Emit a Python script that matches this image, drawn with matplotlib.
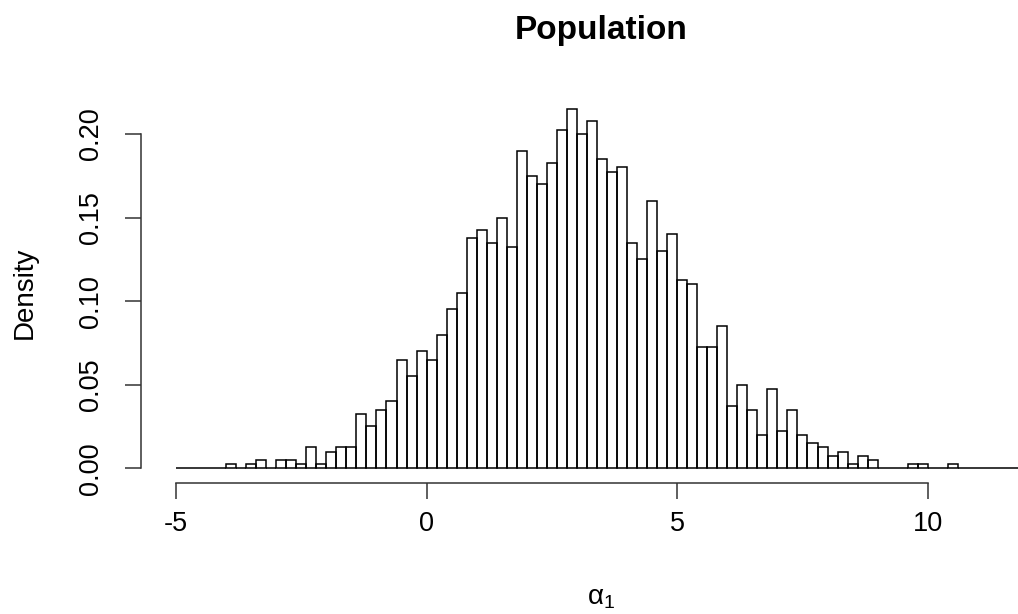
import matplotlib
matplotlib.use("Agg")
import matplotlib.pyplot as plt
import numpy as np

plt.rcParams['font.family'] = ['Liberation Sans', 'DejaVu Sans']
plt.rcParams['mathtext.fontset'] = 'custom'
plt.rcParams['mathtext.rm'] = 'Liberation Sans'

# histogram of alpha_1, bins of width 0.2 starting at -5
bin_start = -5.0
bin_width = 0.2
density = [
    0, 0, 0, 0, 0,                                  # -5.0 .. -4.2
    0.0025, 0, 0.0025, 0.005, 0,                    # -4.0 .. -3.2
    0.005, 0.005, 0.0025, 0.0125, 0.0025,           # -3.0 .. -2.2
    0.01, 0.0125, 0.0125, 0.0325, 0.025,            # -2.0 .. -1.2
    0.035, 0.04, 0.065, 0.055, 0.07,                # -1.0 .. -0.2
    0.065, 0.08, 0.095, 0.105, 0.1375,              #  0.0 ..  0.8
    0.1425, 0.135, 0.15, 0.1325, 0.19,              #  1.0 ..  1.8
    0.175, 0.17, 0.1825, 0.2025, 0.215,             #  2.0 ..  2.8
    0.20, 0.2075, 0.185, 0.1775, 0.18,              #  3.0 ..  3.8
    0.135, 0.125, 0.16, 0.13, 0.14,                 #  4.0 ..  4.8
    0.1125, 0.11, 0.0725, 0.0725, 0.085,            #  5.0 ..  5.8
    0.0375, 0.05, 0.035, 0.02, 0.0475,              #  6.0 ..  6.8
    0.0225, 0.035, 0.02, 0.015, 0.0125,             #  7.0 ..  7.8
    0.0075, 0.01, 0.0025, 0.0075, 0.005,            #  8.0 ..  8.8
    0, 0, 0, 0.0025, 0.0025,                        #  9.0 ..  9.8
    0, 0, 0.0025, 0, 0,                             # 10.0 .. 10.8
    0, 0, 0, 0, 0,                                  # 11.0 .. 11.8
]
x_ticks = [-5, 0, 5, 10]
y_ticks = [0.00, 0.05, 0.10, 0.15, 0.20]
y_tick_labels = ["0.00", "0.05", "0.10", "0.15", "0.20"]

edges = bin_start + bin_width * np.arange(len(density))

fig = plt.figure(figsize=(10.18, 6.14), dpi=100)
ax = fig.add_axes([141/1018, 131/614, 1 - 141/1018, 383/614])

ax.bar(edges, density, width=bin_width, align='edge', fill=False,
       edgecolor='black', linewidth=1.1)

ax.set_xlim(-5.698, 11.80)
ax.set_ylim(-0.0088, 0.2203)

for s in ['top', 'right']:
    ax.spines[s].set_visible(False)
ax.spines['left'].set_bounds(0, 0.2)
ax.spines['bottom'].set_bounds(-5, 10)
for s in ['left', 'bottom']:
    ax.spines[s].set_linewidth(1.1)
    ax.spines[s].set_color('#333333')

ax.set_xticks(x_ticks)
ax.set_xticklabels([str(t) for t in x_ticks])
ax.set_yticks(y_ticks)
ax.set_yticklabels(y_tick_labels, rotation=90, va='center')
ax.tick_params(axis='both', length=11.5, width=1.1, color='#333333',
               labelsize=19.5)
ax.tick_params(axis='y', pad=15)
ax.tick_params(axis='x', pad=9)

fig.text(601/1018, 1 - 30/614, "Population", fontsize=24, fontweight='bold',
         ha='center', va='center')
fig.text(25/1018, 1 - 293/614, "Density", fontsize=20, rotation=90,
         ha='center', va='center')
fig.text(601/1018, 1 - 598/614, r'α$_\mathrm{1}$', fontsize=20,
         ha='center', va='center')

fig.savefig("out.png", dpi=100)
